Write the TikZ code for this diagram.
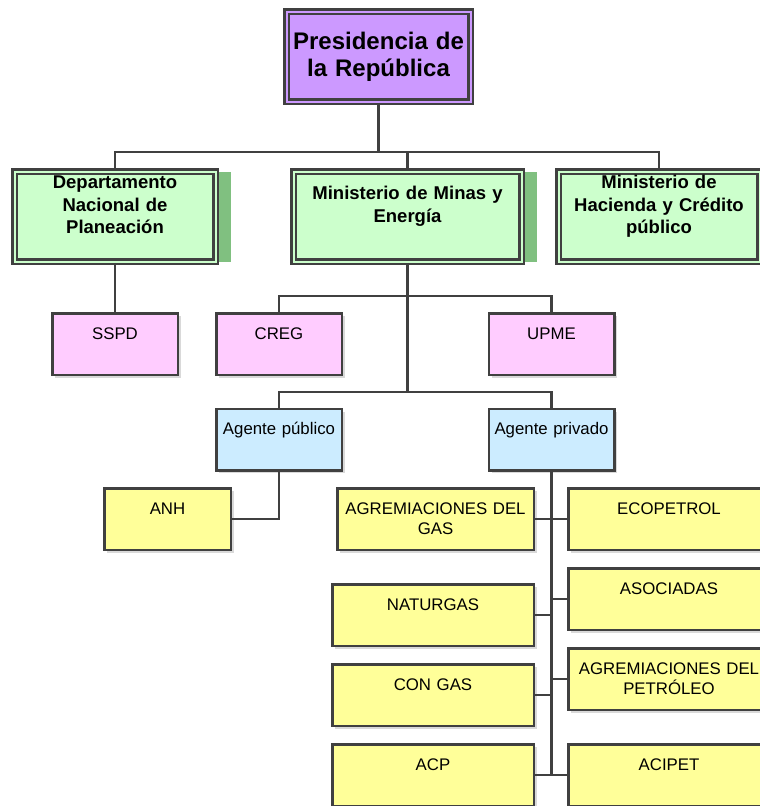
\documentclass[tikz,border=0pt]{standalone}
\usepackage{fontspec}
\setmainfont{Liberation Sans}
\usetikzlibrary{shadows}
\definecolor{linegray}{HTML}{404040}
\definecolor{presfill}{HTML}{CC99FF}
\definecolor{minfill}{HTML}{CCFFCC}
\definecolor{minshadow}{HTML}{80C080}
\definecolor{regfill}{HTML}{FFCCFF}
\definecolor{agentfill}{HTML}{CCECFF}
\definecolor{firmfill}{HTML}{FFFF99}

\begin{document}
\begin{tikzpicture}
\tikzset{x=1pt, y=-1pt}
\tikzset{link/.style={draw=linegray, line width=2.5pt}}
\tikzset{orgbox/.style={draw=linegray, line width=2.5pt, inner sep=0pt, align=center, text height=26pt, text depth=35.5pt, text width=125.5pt, font=\fontsize{16.8}{20}\selectfont, drop shadow={shadow xshift=3pt, shadow yshift=-3pt, fill=black!15, opacity=1}}}
\tikzset{regbox/.style={orgbox, fill=regfill}}
\tikzset{agentbox/.style={orgbox, fill=agentfill}}
\tikzset{firmbox/.style={orgbox, fill=firmfill, text width=201.5pt}}
\tikzset{minbox/.style={draw=linegray, line width=2.5pt, double=minfill, double distance=2pt, fill=minfill, inner sep=0pt, align=center, text width=201pt, text height=17pt, text depth=73pt, font=\fontsize{18.5}{22.5}\selectfont\bfseries, drop shadow={shadow xshift=15pt, shadow yshift=0pt, fill=minshadow, opacity=1}}}
\tikzset{presbox/.style={draw=linegray, line width=2.5pt, double=presfill, double distance=2pt, fill=presfill, inner sep=0pt, align=center, text width=184pt, minimum height=90pt, font=\fontsize{24}{27}\selectfont\bfseries, drop shadow={shadow xshift=3pt, shadow yshift=-3pt, fill=presfill!25, opacity=1}}}
\useasboundingbox (0,0) rectangle (760,806);
\clip (0,0) rectangle (760,806);

\node[presbox] (pres) at (378.5,56.5) {Presidencia de\\la República};
\node[minbox] (dnp) at (115,216.5) {Departamento\\Nacional de\\Planeación};
\node[minbox, text width=228pt, text height=28pt, text depth=62pt] (minas) at (407.5,216.5) {Ministerio de Minas y\\Energía};
\node[minbox] (hac) at (659,216.5) {Ministerio de\\Hacienda y Crédito\\público};
\node[regbox] (sspd) at (115,344) {SSPD};
\node[regbox] (creg) at (279,344) {CREG};
\node[regbox] (upme) at (551.5,344) {UPME};
\node[agentbox] (apub) at (279,439.5) {Agente público};
\node[agentbox] (apriv) at (551.5,439.5) {Agente privado};
\node[firmbox, text width=126.5pt] (anh) at (167.5,519) {ANH};
\node[firmbox, text width=196.5pt] (agas) at (435.5,519) {AGREMIACIONES DEL\\GAS};
\node[firmbox] (natur) at (433,615) {NATURGAS};
\node[firmbox] (congas) at (433,695) {CON GAS};
\node[firmbox] (acp) at (433,775) {ACP};
\node[firmbox] (ecop) at (669,519) {ECOPETROL};
\node[firmbox] (asoc) at (669,599) {ASOCIADAS};
\node[firmbox] (apet) at (669,679) {AGREMIACIONES DEL\\PETRÓLEO};
\node[firmbox] (acip) at (669,775) {ACIPET};

\coordinate (topbus) at (0,152);
\coordinate (regbus) at (0,296);
\coordinate (agentbus) at (0,392);

\draw[link] (pres.south) -- (pres.south |- topbus);
\draw[link] (dnp.north) -- (dnp.north |- topbus) -- (hac.north |- topbus) -- (hac.north);
\draw[link] (minas.north) -- (minas.north |- topbus);
\draw[link] (dnp.south) -- (sspd.north);
\draw[link] (minas.south) -- (minas.south |- agentbus);
\draw[link] (creg.north) -- (creg.north |- regbus) -- (upme.north |- regbus) -- (upme.north);
\draw[link] (apub.north) -- (apub.north |- agentbus) -- (apriv.north |- agentbus) -- (apriv.north);
\draw[link] (apub.south) |- (anh.east);
\draw[link] (apriv.south) -- (apriv.south |- acp.east);
\draw[link] (agas.east) -- (agas.east -| apriv.south);
\draw[link] (natur.east) -- (natur.east -| apriv.south);
\draw[link] (congas.east) -- (congas.east -| apriv.south);
\draw[link] (acp.east) -- (acp.east -| apriv.south);
\draw[link] (ecop.west) -- (ecop.west -| apriv.south);
\draw[link] (asoc.west) -- (asoc.west -| apriv.south);
\draw[link] (apet.west) -- (apet.west -| apriv.south);
\draw[link] (acip.west) -- (acip.west -| apriv.south);
\end{tikzpicture}
\end{document}
